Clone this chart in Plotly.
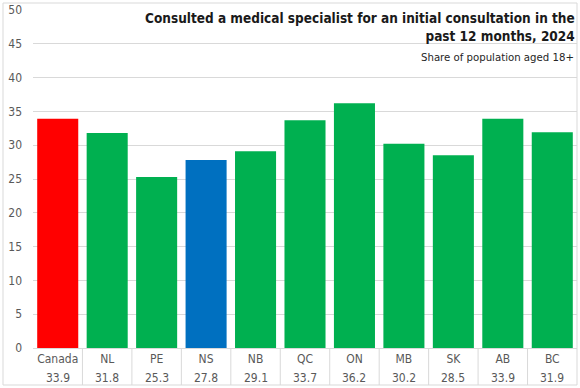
import plotly.graph_objects as go

categories = ["Canada", "NL", "PE", "NS", "NB", "QC", "ON", "MB", "SK", "AB", "BC"]
values = [33.9, 31.8, 25.3, 27.8, 29.1, 33.7, 36.2, 30.2, 28.5, 33.9, 31.9]
value_labels = ["33.9", "31.8", "25.3", "27.8", "29.1", "33.7", "36.2", "30.2", "28.5", "33.9", "31.9"]
bar_colors = ["#FF0000", "#00B050", "#00B050", "#0070C0", "#00B050", "#00B050",
              "#00B050", "#00B050", "#00B050", "#00B050", "#00B050"]
y_ticks = [0, 5, 10, 15, 20, 25, 30, 35, 40, 45, 50]

title_text = "Consulted a medical specialist for an initial consultation in the<br>past 12 months, 2024"
subtitle_text = "Share of population aged 18+"

FONT = "DejaVu Sans Condensed, Roboto, Arial, sans-serif"
GRID = "#D9D9D9"
TXT = "#595959"

fig = go.Figure(go.Bar(
    x=categories, y=values, marker=dict(color=bar_colors, line=dict(width=0)),
    hoverinfo="x+y",
))

W, H = 580, 388
ml, mr, mt, mb = 33, 3, 10, 40
ph = H - mt - mb

def py(p):  # pixel y -> paper y
    return (H - mb - p) / ph

def px(p):
    return (p - ml) / (W - ml - mr)

shapes = []
shapes.append(dict(type="rect", xref="paper", yref="paper",
                   x0=px(3), x1=px(577), y0=py(385), y1=py(3),
                   line=dict(color="#D9D9D9", width=1), layer="below"))
for i in range(len(categories) - 1):
    shapes.append(dict(type="line", xref="x", yref="paper",
                       x0=i + 0.5, x1=i + 0.5, y0=0, y1=py(385),
                       line=dict(color=GRID, width=1)))

annotations = []
for c, v in zip(categories, value_labels):
    annotations.append(dict(x=c, xref="x", y=py(377.5), yref="paper", text=v,
                            showarrow=False, xanchor="center", yanchor="middle",
                            font=dict(family=FONT, size=12, color=TXT)))
annotations.append(dict(x=px(576), xref="paper", y=py(9), yref="paper", text="<b>" + title_text + "</b>",
                        showarrow=False, xanchor="right", yanchor="top", align="right",
                        borderpad=0,
                        font=dict(family=FONT, size=13.5, color="#1a1a1a")))
annotations.append(dict(x=px(576), xref="paper", y=py(57), yref="paper", text=subtitle_text,
                        showarrow=False, xanchor="right", yanchor="middle", align="right",
                        font=dict(family=FONT, size=11.3, color="#262626")))

fig.update_layout(
    width=W, height=H,
    margin=dict(l=ml, r=mr, t=mt, b=mb),
    paper_bgcolor="white", plot_bgcolor="white",
    bargap=0.17, showlegend=False,
    font=dict(family=FONT, size=12, color=TXT),
    xaxis=dict(showgrid=False, showline=True, linecolor=GRID, linewidth=1,
               ticks="", tickfont=dict(family=FONT, size=12, color=TXT),
               ticklabelstandoff=0),
    yaxis=dict(range=[0, 50], tickvals=y_ticks, showgrid=True, gridcolor=GRID,
               gridwidth=1, zeroline=False, showline=False, ticks="",
               tickfont=dict(family=FONT, size=12, color=TXT), ticklabelstandoff=10),
    shapes=shapes, annotations=annotations,
)

fig.write_html("out.html", config={"displayModeBar": False},
               post_script="document.body.style.margin='0';document.body.style.overflow='hidden';")
